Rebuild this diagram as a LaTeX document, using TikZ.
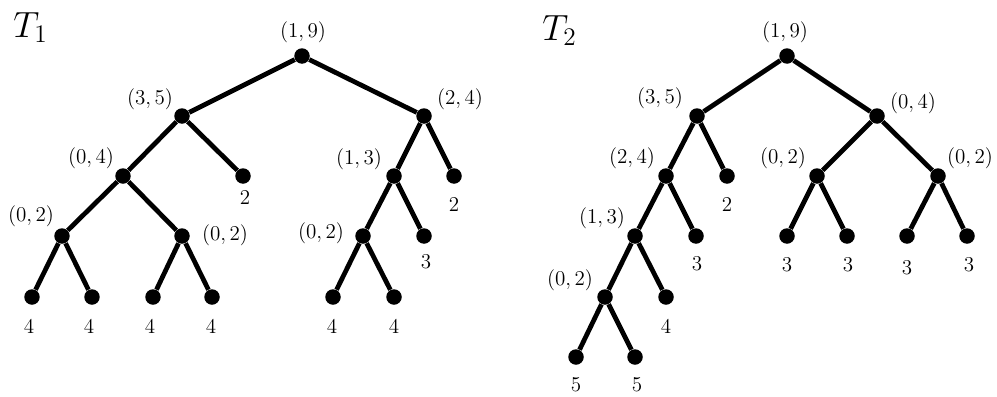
\documentclass[tikz,border=0pt]{standalone}
\begin{document}
\begin{tikzpicture}[x=0.02cm,y=-0.02cm,
  dot/.style={circle,fill=black,inner sep=0pt,minimum size=0.31cm},
  edge/.style={line width=2.7pt},
  lab/.style={inner sep=0pt,font=\fontsize{11.6}{14}\selectfont},
  ttl/.style={inner sep=0pt,anchor=base west,font=\fontsize{21}{25}\selectfont}]
\useasboundingbox (0,0) rectangle (997,396);
% ---------- T1 ----------
\node[ttl] (t1) at (13,37) {$T_1$};
\node[dot] (a1) at (302,56) {};
\node[dot] (b1) at (182,116) {};
\node[dot] (c1) at (424,116) {};
\node[dot] (d1) at (123,176) {};
\node[dot] (e1) at (243,176) {};
\node[dot] (f1) at (394,176) {};
\node[dot] (g1) at (454,176) {};
\node[dot] (h1) at (62,236) {};
\node[dot] (i1) at (182,236) {};
\node[dot] (j1) at (363,236) {};
\node[dot] (k1) at (424,236) {};
\node[dot] (l1) at (32,297) {};
\node[dot] (m1) at (92,297) {};
\node[dot] (n1) at (153,297) {};
\node[dot] (o1) at (212,297) {};
\node[dot] (p1) at (333,297) {};
\node[dot] (q1) at (394,297) {};
\draw[edge] (a1)--(b1) (a1)--(c1) (b1)--(d1) (b1)--(e1)
  (d1)--(h1) (d1)--(i1) (h1)--(l1) (h1)--(m1) (i1)--(n1) (i1)--(o1)
  (c1)--(f1) (c1)--(g1) (f1)--(j1) (f1)--(k1) (j1)--(p1) (j1)--(q1);
\node[lab] (la1) at (303,32) {$(1,9)$};
\node[lab] (lb1) at (150,99) {$(3,5)$};
\node[lab] (lc1) at (460,99) {$(2,4)$};
\node[lab] (ld1) at (91,158) {$(0,4)$};
\node[lab] (le1) at (245,198) {$2$};
\node[lab] (lf1) at (359,159) {$(1,3)$};
\node[lab] (lg1) at (454,205) {$2$};
\node[lab] (lh1) at (31,216) {$(0,2)$};
\node[lab] (li1) at (225,235) {$(0,2)$};
\node[lab] (lj1) at (321,233) {$(0,2)$};
\node[lab] (lk1) at (426,262) {$3$};
\node[lab] (ll1) at (29,327) {$4$};
\node[lab] (lm1) at (89,327) {$4$};
\node[lab] (ln1) at (150,327) {$4$};
\node[lab] (lo1) at (211,327) {$4$};
\node[lab] (lp1) at (332,327) {$4$};
\node[lab] (lq1) at (394,327) {$4$};
% ---------- T2 ----------
\node[ttl] (t2) at (542,40) {$T_2$};
\node[dot] (a2) at (787,56) {};
\node[dot] (b2) at (697,116) {};
\node[dot] (c2) at (877,116) {};
\node[dot] (d2) at (666,176) {};
\node[dot] (e2) at (727,176) {};
\node[dot] (f2) at (817,176) {};
\node[dot] (g2) at (938,176) {};
\node[dot] (h2) at (635,236) {};
\node[dot] (i2) at (696,236) {};
\node[dot] (j2) at (787,236) {};
\node[dot] (k2) at (847,236) {};
\node[dot] (l2) at (907,236) {};
\node[dot] (m2) at (967,236) {};
\node[dot] (n2) at (605,297) {};
\node[dot] (o2) at (666,297) {};
\node[dot] (p2) at (576,357) {};
\node[dot] (q2) at (635,357) {};
\draw[edge] (a2)--(b2) (a2)--(c2) (b2)--(d2) (b2)--(e2)
  (d2)--(h2) (d2)--(i2) (h2)--(n2) (h2)--(o2) (n2)--(p2) (n2)--(q2)
  (c2)--(f2) (c2)--(g2) (f2)--(j2) (f2)--(k2) (g2)--(l2) (g2)--(m2);
\node[lab] (la2) at (785,32) {$(1,9)$};
\node[lab] (lb2) at (660,98) {$(3,5)$};
\node[lab] (lc2) at (913,103) {$(0,4)$};
\node[lab] (ld2) at (632,158) {$(2,4)$};
\node[lab] (le2) at (727,205) {$2$};
\node[lab] (lf2) at (783,158) {$(0,2)$};
\node[lab] (lg2) at (970,158) {$(0,2)$};
\node[lab] (lh2) at (602,218) {$(1,3)$};
\node[lab] (li2) at (697,264) {$3$};
\node[lab] (lj2) at (787,265) {$3$};
\node[lab] (lk2) at (848,265) {$3$};
\node[lab] (ll2) at (907,268) {$3$};
\node[lab] (lm2) at (969,265) {$3$};
\node[lab] (ln2) at (570,280) {$(0,2)$};
\node[lab] (lo2) at (666,327) {$4$};
\node[lab] (lp2) at (576,385) {$5$};
\node[lab] (lq2) at (637,385) {$5$};
\end{tikzpicture}
\end{document}
